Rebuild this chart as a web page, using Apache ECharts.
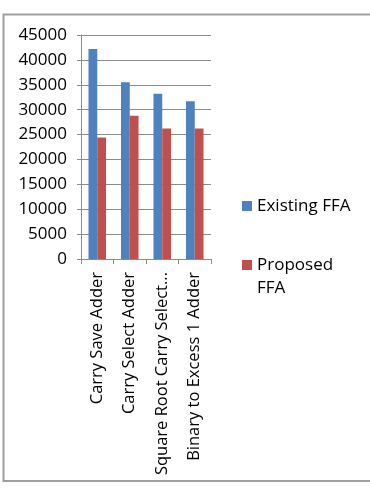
<!DOCTYPE html>
<html>
<head>
<meta charset="utf-8">
<script src="https://cdn.jsdelivr.net/npm/echarts@6/dist/echarts.min.js"></script>
<style>
  html, body { margin: 0; padding: 0; background: #fff; }
  #chart { width: 370px; height: 488px; }
</style>
</head>
<body>
<div id="chart"></div>
<script>
var categories = ['Carry Save Adder', 'Carry Select Adder', 'Square Root Carry Select Adder', 'Binary to Excess 1 Adder'];
var existing = [42200, 35500, 33200, 31700];
var proposed = [24400, 28800, 26200, 26200];
var seriesNames = ['Existing FFA', 'Proposed FFA'];

var font = 'Open Sans';
var gray = '#8c8c8c';

var chart = echarts.init(document.getElementById('chart'));

var legendText = {
    fontFamily: font,
    fontSize: 17,
    color: '#000',
    width: 96,
    overflow: 'break',
    lineHeight: 23
};

var option = {
    animation: false,
    color: ['#4f81bd', '#c0504d'],
    textStyle: {fontFamily: font},
    graphic: [
        {
            type: 'rect',
            shape: {x: 3.5, y: 14.5, width: 400, height: 466.5},
            style: {fill: 'none', stroke: '#a0a0a0', lineWidth: 2}
        }
    ],
    grid: {left: 81, right: 159, top: 35, bottom: 229},
    legend: [
        {
            left: 242,
            top: 194.5,
            padding: 0,
            itemWidth: 10,
            itemHeight: 10,
            icon: 'rect',
            textStyle: legendText,
            data: [seriesNames[0]]
        },
        {
            // tall icon with the square on top, so it sits by the first text line
            left: 242,
            top: 253.5,
            padding: 0,
            itemWidth: 10,
            itemHeight: 33,
            icon: 'path://M0,0H10V10H0Z M0,32.95H0.05V33H0Z',
            textStyle: legendText,
            data: [seriesNames[1]]
        }
    ],
    xAxis: {
        type: 'category',
        data: categories,
        axisLine: {lineStyle: {color: gray}},
        axisTick: {show: true, length: 5, lineStyle: {color: gray}},
        axisLabel: {
            interval: 0,
            rotate: 90,
            margin: 13,
            fontSize: 16.5,
            color: '#000',
            width: 210,
            overflow: 'truncate',
            ellipsis: '...'
        }
    },
    yAxis: {
        type: 'value',
        min: 0,
        max: 45000,
        interval: 5000,
        axisLine: {show: true, lineStyle: {color: gray}},
        axisTick: {show: true, length: 4, lineStyle: {color: gray}},
        splitLine: {lineStyle: {color: gray}},
        axisLabel: {
            margin: 14,
            fontSize: 17,
            color: '#000',
            formatter: function (v) { return String(v); }
        }
    },
    series: [
        {name: seriesNames[0], type: 'bar', data: existing, barGap: '0%', barCategoryGap: '46%'},
        {name: seriesNames[1], type: 'bar', data: proposed}
    ]
};
chart.setOption(option);
</script>
</body>
</html>
